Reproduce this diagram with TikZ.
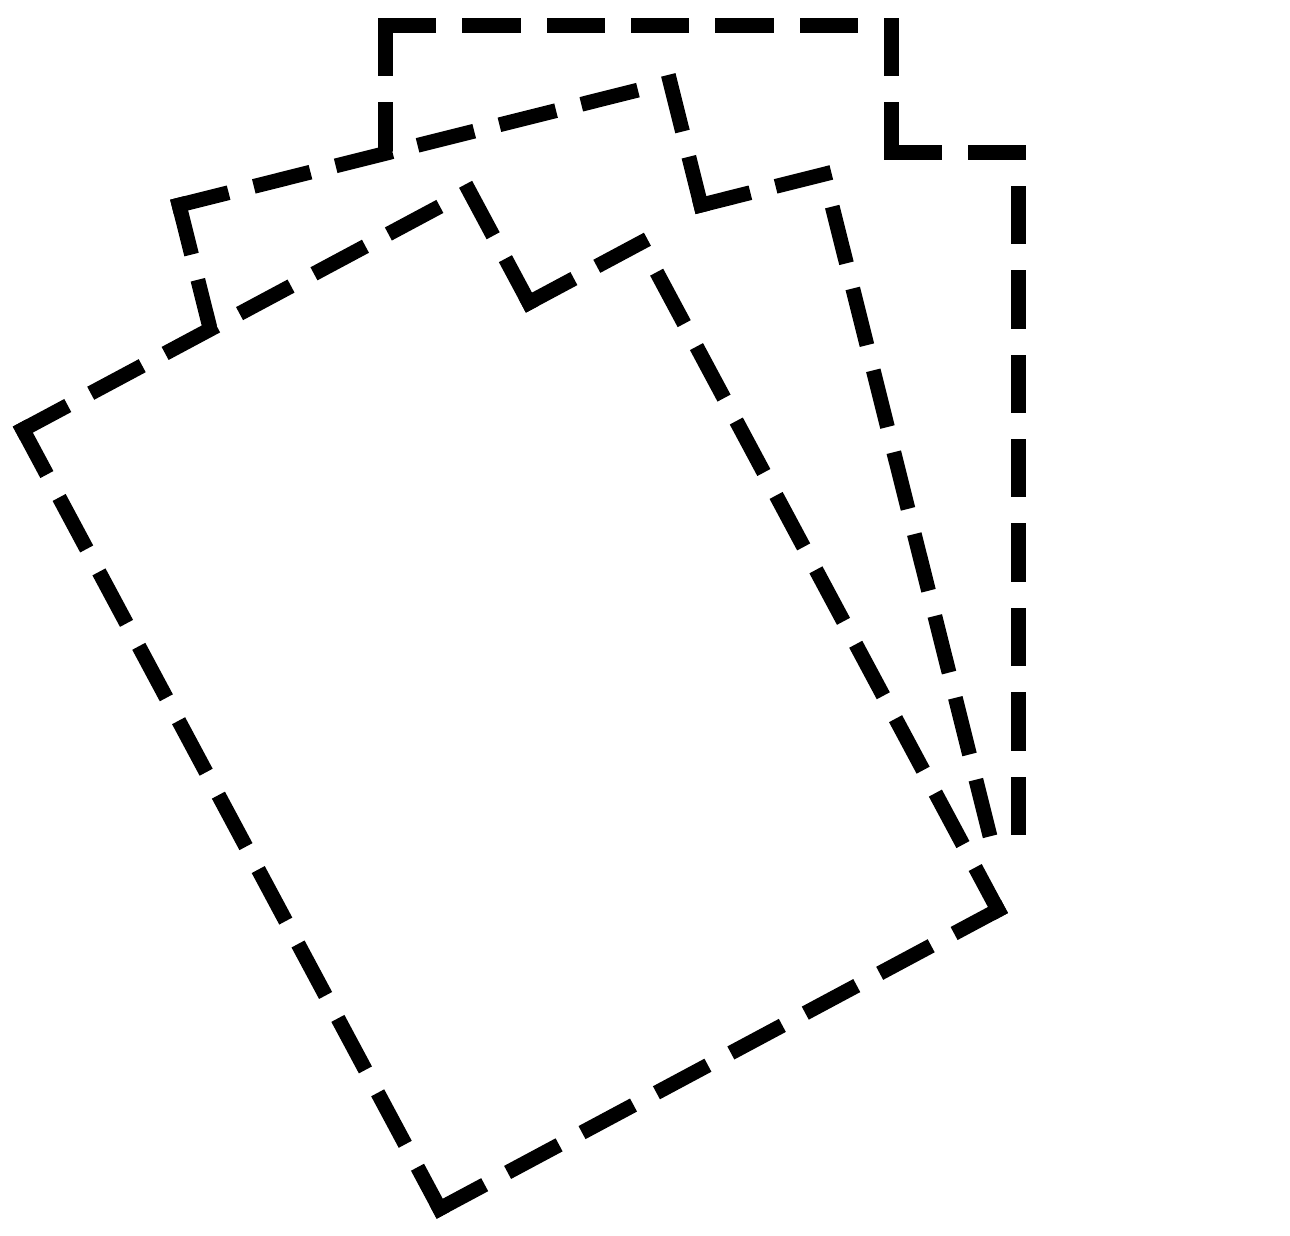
\documentclass[tikz,border=0pt]{standalone}
\newcommand\papersheet[2]{%
  \begin{scope}[rotate around={#1:(1009.8,950.3)}]
    \coordinate (#2TL) at (385.2,25.5);
    \coordinate (#2TA) at (891.35,25.5);
    \coordinate (#2N) at (891.35,152.35);
    \coordinate (#2TB) at (1018.35,152.35);
    \coordinate (#2BR) at (1018.35,909.2);
    \coordinate (#2BL) at (385.2,909.2);
    \coordinate (#2RE) at (1018.35,827.6);
  \end{scope}
  \fill[white] (#2TL) -- (#2TA) -- (#2N) -- (#2TB) -- (#2BR) -- (#2BL) -- cycle;
  \draw[sheetedge] (#2TL) -- (#2TA);
  \draw[sheetedge] (#2TA) -- (#2N);
  \draw[sheetedge] (#2N) -- (#2TB);
  \draw[sheetedge] (#2TL) -- (#2BL);
}
\begin{document}
\begin{tikzpicture}[x=1pt,y=-1pt,
  sheetedge/.style={line width=14.8pt,line cap=rect,dash pattern=on 43.6pt off 40.8pt,dash phase=0pt},
  gapfirst/.style={sheetedge,dash phase=43.6pt}]
\useasboundingbox[fill=white] (0,0) rectangle (1290,1236);
\papersheet{0}{back}
\draw[gapfirst] (backTB) -- (backRE);
\papersheet{14.07}{mid}
\draw[gapfirst] (midTB) -- (midRE);
\papersheet{28.15}{front}
\draw[gapfirst] (frontTB) -- (frontBR);
\draw[sheetedge] (frontBL) -- (frontBR);
\end{tikzpicture}
\end{document}
